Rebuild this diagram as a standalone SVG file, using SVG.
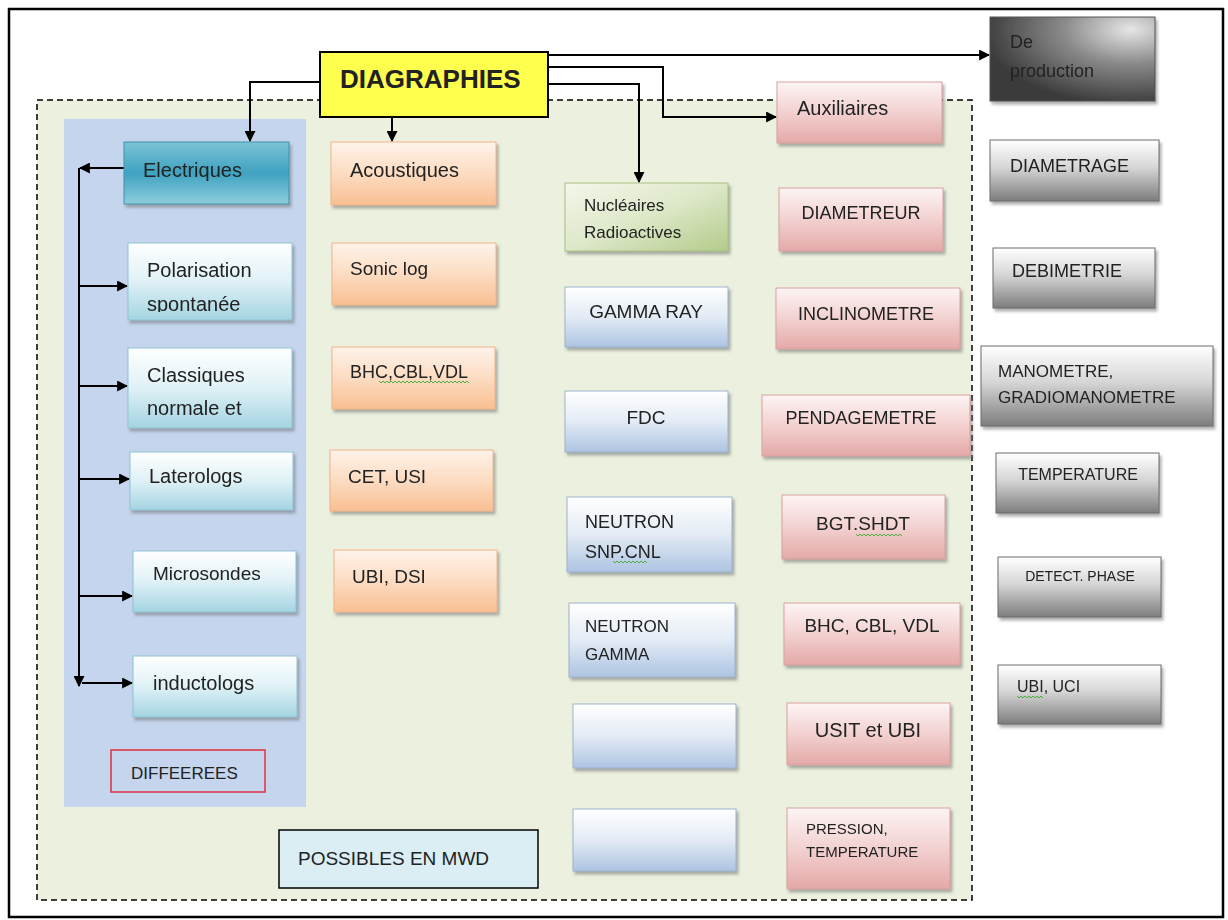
<svg xmlns="http://www.w3.org/2000/svg" width="1228" height="920" viewBox="0 0 1228 920">
<defs>
<style>
text{font-family:"Liberation Sans",Arial,sans-serif;fill:#222;}
.t20{font-size:20px}.t19{font-size:19px}.t18{font-size:18px}.t17{font-size:17px}.t16{font-size:16px}.t15{font-size:15px}.t14{font-size:14px}.t13{font-size:13px}
.c{text-anchor:middle}
.box{stroke-width:1}
.cy{fill:url(#gCyan);stroke:#8fc3d3}
.el{fill:url(#gTeal);stroke:#3c93ab}
.or{fill:url(#gOrange);stroke:#f2b48a}
.bl{fill:url(#gBlue);stroke:#9db3cf}
.gr{fill:url(#gGreen);stroke:#a9c281}
.pk{fill:url(#gPink);stroke:#d9a1a0}
.gy{fill:url(#gGrey);stroke:#6d6d6d}
.conn{fill:none;stroke:#000;stroke-width:2}
.wavy{fill:none;stroke:#4caf3c;stroke-width:1}
</style>
<linearGradient id="gCyan" x1="0" y1="0" x2="0" y2="1"><stop offset="0" stop-color="#ffffff"/><stop offset="0.5" stop-color="#dff1f6"/><stop offset="1" stop-color="#a3d4e2"/></linearGradient>
<linearGradient id="gTeal" x1="0" y1="0" x2="0" y2="1"><stop offset="0" stop-color="#7cc3d7"/><stop offset="0.5" stop-color="#3fa2c0"/><stop offset="1" stop-color="#8dcddd"/></linearGradient>
<linearGradient id="gOrange" x1="0" y1="0" x2="0" y2="1"><stop offset="0" stop-color="#fff3ea"/><stop offset="0.5" stop-color="#fcdcc2"/><stop offset="1" stop-color="#f9bf92"/></linearGradient>
<linearGradient id="gBlue" x1="0" y1="0" x2="0" y2="1"><stop offset="0" stop-color="#ffffff"/><stop offset="0.5" stop-color="#e3ebf5"/><stop offset="1" stop-color="#adc4e2"/></linearGradient>
<linearGradient id="gGreen" x1="0" y1="0" x2="1" y2="1"><stop offset="0" stop-color="#f4f7ec"/><stop offset="0.5" stop-color="#dde8c8"/><stop offset="1" stop-color="#b3cb8a"/></linearGradient>
<linearGradient id="gPink" x1="0" y1="0" x2="0" y2="1"><stop offset="0" stop-color="#fdf4f4"/><stop offset="0.5" stop-color="#f2d1d0"/><stop offset="1" stop-color="#e4a9a8"/></linearGradient>
<linearGradient id="gGrey" x1="0" y1="0" x2="0" y2="1"><stop offset="0" stop-color="#ffffff"/><stop offset="0.45" stop-color="#d6d6d6"/><stop offset="1" stop-color="#7d7d7d"/></linearGradient>
<radialGradient id="gDark" cx="0.85" cy="0.15" r="0.9"><stop offset="0" stop-color="#e6e6e6"/><stop offset="0.45" stop-color="#8a8a8a"/><stop offset="1" stop-color="#3a3a3a"/></radialGradient>
<filter id="sh" x="-10%" y="-10%" width="125%" height="130%"><feDropShadow dx="2" dy="3" stdDeviation="1.5" flood-color="#7a7a7a" flood-opacity="0.6"/></filter>
<marker id="arr" viewBox="0 0 10 10" refX="9" refY="5" markerWidth="11" markerHeight="11" markerUnits="userSpaceOnUse" orient="auto"><path d="M0,0 L10,5 L0,10 z" fill="#000"/></marker>
<clipPath id="clipPol"><rect x="128" y="243" width="164" height="69"/></clipPath>
</defs>

<rect x="9" y="9" width="1214" height="908" fill="#fff" stroke="#000" stroke-width="2.5"/>
<g id="zone-possibles">
<rect x="37" y="100" width="935" height="800" fill="#ebf1de" stroke="#000" stroke-width="1.5" stroke-dasharray="6,4"/>
</g>
<g id="panel-differees">
<rect x="64" y="119" width="242" height="688" fill="#c5d5ee"/>
</g>

<g id="connectors">
<path class="conn" d="M320,82 H250 V141" marker-end="url(#arr)"/>
<path class="conn" d="M392,117 V141" marker-end="url(#arr)"/>
<path class="conn" d="M548,55 H989" marker-end="url(#arr)"/>
<path class="conn" d="M548,67 H663 V117 H776" marker-end="url(#arr)"/>
<path class="conn" d="M548,84 H639 V182" marker-end="url(#arr)"/>
<path class="conn" d="M124,168 H80" marker-end="url(#arr)"/>
<path class="conn" d="M79,168 V686" marker-end="url(#arr)"/>
<path class="conn" d="M79,286 H127" marker-end="url(#arr)"/>
<path class="conn" d="M79,386 H127" marker-end="url(#arr)"/>
<path class="conn" d="M79,479 H129" marker-end="url(#arr)"/>
<path class="conn" d="M79,596 H132" marker-end="url(#arr)"/>
<path class="conn" d="M82,683 H132" marker-end="url(#arr)"/>
</g>

<g id="diagraphies"><rect x="320" y="52" width="228" height="65" fill="#ffff4d" stroke="#000" stroke-width="2"/><text x="340" y="88" style="font-size:26px;font-weight:bold">DIAGRAPHIES</text></g>

<g id="electriques" filter="url(#sh)"><rect class="box el" x="124" y="142" width="165" height="62"/><text class="t20" x="143" y="177">Electriques</text></g>
<g id="polarisation" filter="url(#sh)"><rect class="box cy" x="128" y="243" width="164" height="77"/><g clip-path="url(#clipPol)"><text class="t20" x="147" y="277">Polarisation</text><text class="t20" x="147" y="311">spontanée</text></g></g>
<g id="classiques" filter="url(#sh)"><rect class="box cy" x="128" y="348" width="164" height="80"/><text class="t20" x="147" y="382">Classiques</text><text class="t20" x="147" y="415">normale et</text></g>
<g id="laterologs" filter="url(#sh)"><rect class="box cy" x="130" y="452" width="163" height="58"/><text class="t20" x="149" y="483">Laterologs</text></g>
<g id="microsondes" filter="url(#sh)"><rect class="box cy" x="133" y="551" width="163" height="61"/><text class="t19" x="153" y="580">Microsondes</text></g>
<g id="inductologs" filter="url(#sh)"><rect class="box cy" x="133" y="656" width="164" height="61"/><text class="t20" x="153" y="690">inductologs</text></g>
<g id="differees"><rect x="111" y="750" width="154" height="42" fill="#c5d5ee" stroke="#e0303c" stroke-width="1.5"/><text class="t17" x="131" y="779">DIFFEEREES</text></g>

<g id="acoustiques" filter="url(#sh)"><rect class="box or" x="331" y="142" width="165" height="63"/><text class="t20" x="350" y="177">Acoustiques</text></g>
<g id="sonic" filter="url(#sh)"><rect class="box or" x="332" y="243" width="164" height="62"/><text class="t19" x="350" y="275">Sonic log</text></g>
<g id="bhc-a" filter="url(#sh)"><rect class="box or" x="332" y="347" width="163" height="62"/><text class="t18" x="350" y="378">BHC,CBL,VDL</text><path class="wavy" d="M379,381 l2,2 2,-2 2,2 2,-2 2,2 2,-2 2,2 2,-2 2,2 2,-2 2,2 2,-2 2,2 2,-2 2,2 2,-2 2,2 2,-2 2,2 2,-2 2,2 2,-2 2,2 2,-2 2,2 2,-2 2,2 2,-2 2,2 2,-2 2,2 2,-2 2,2 2,-2 2,2 2,-2 2,2 2,-2 2,2 2,-2 2,2 2,-2 2,2 2,-2 2,2"/></g>
<g id="cet" filter="url(#sh)"><rect class="box or" x="330" y="450" width="163" height="61"/><text class="t19" x="348" y="483">CET, USI</text></g>
<g id="ubi-dsi" filter="url(#sh)"><rect class="box or" x="334" y="550" width="163" height="62"/><text class="t19" x="352" y="583">UBI, DSI</text></g>

<g id="nucleaires" filter="url(#sh)"><rect class="box gr" x="565" y="183" width="163" height="68"/><text class="t17" x="584" y="211">Nucléaires</text><text class="t17" x="584" y="238">Radioactives</text></g>
<g id="gammaray" filter="url(#sh)"><rect class="box bl" x="565" y="287" width="163" height="60"/><text class="t19 c" x="646" y="318">GAMMA RAY</text></g>
<g id="fdc" filter="url(#sh)"><rect class="box bl" x="565" y="391" width="163" height="61"/><text class="t19 c" x="646" y="424">FDC</text></g>
<g id="neutron-snp" filter="url(#sh)"><rect class="box bl" x="567" y="497" width="165" height="75"/><text class="t18" x="585" y="528">NEUTRON</text><text class="t18" x="585" y="558">SNP.CNL</text><path class="wavy" d="M613,561 l2,2 2,-2 2,2 2,-2 2,2 2,-2 2,2 2,-2 2,2 2,-2 2,2 2,-2 2,2 2,-2 2,2 2,-2 2,2"/></g>
<g id="neutron-gamma" filter="url(#sh)"><rect class="box bl" x="569" y="603" width="166" height="74"/><text class="t17" x="585" y="632">NEUTRON</text><text class="t17" x="585" y="660">GAMMA</text></g>
<g id="nuc-empty-1" filter="url(#sh)"><rect class="box bl" x="573" y="704" width="163" height="64"/></g>
<g id="nuc-empty-2" filter="url(#sh)"><rect class="box bl" x="573" y="809" width="163" height="62"/></g>

<g id="auxiliaires" filter="url(#sh)"><rect class="box pk" x="777" y="82" width="165" height="61"/><text class="t20" x="797" y="115">Auxiliaires</text></g>
<g id="diametreur" filter="url(#sh)"><rect class="box pk" x="779" y="188" width="164" height="63"/><text class="t18 c" x="861" y="219">DIAMETREUR</text></g>
<g id="inclinometre" filter="url(#sh)"><rect class="box pk" x="776" y="288" width="184" height="61"/><text class="t18 c" x="866" y="320">INCLINOMETRE</text></g>
<g id="pendagemetre" filter="url(#sh)"><rect class="box pk" x="762" y="395" width="208" height="61"/><text class="t18 c" x="861" y="424">PENDAGEMETRE</text></g>
<g id="bgt" filter="url(#sh)"><rect class="box pk" x="782" y="495" width="163" height="64"/><text class="t19 c" x="863" y="530">BGT.SHDT</text><path class="wavy" d="M856,534 l2,2 2,-2 2,2 2,-2 2,2 2,-2 2,2 2,-2 2,2 2,-2 2,2 2,-2 2,2 2,-2 2,2 2,-2 2,2 2,-2 2,2 2,-2 2,2 2,-2 2,2"/></g>
<g id="bhc-b" filter="url(#sh)"><rect class="box pk" x="784" y="603" width="176" height="62"/><text class="t19 c" x="872" y="632">BHC, CBL, VDL</text></g>
<g id="usit" filter="url(#sh)"><rect class="box pk" x="787" y="703" width="163" height="62"/><text class="t20 c" x="868" y="737">USIT et UBI</text></g>
<g id="pression" filter="url(#sh)"><rect class="box pk" x="787" y="808" width="163" height="81"/><text class="t15" x="806" y="834">PRESSION,</text><text class="t15" x="806" y="857">TEMPERATURE</text></g>

<g id="de-production" filter="url(#sh)"><rect x="990" y="17" width="165" height="84" fill="url(#gDark)" stroke="#555" stroke-width="1"/><text class="t18" x="1010" y="48">De</text><text class="t18" x="1010" y="77">production</text></g>
<g id="diametrage" filter="url(#sh)"><rect class="box gy" x="990" y="140" width="169" height="61"/><text class="t18" x="1010" y="172">DIAMETRAGE</text></g>
<g id="debimetrie" filter="url(#sh)"><rect class="box gy" x="993" y="248" width="162" height="60"/><text class="t18" x="1012" y="277">DEBIMETRIE</text></g>
<g id="manometre" filter="url(#sh)"><rect class="box gy" x="981" y="346" width="232" height="80"/><text class="t17" x="998" y="377">MANOMETRE,</text><text class="t17" x="998" y="403">GRADIOMANOMETRE</text></g>
<g id="temperature" filter="url(#sh)"><rect class="box gy" x="996" y="453" width="163" height="60"/><text class="t16 c" x="1078" y="480">TEMPERATURE</text></g>
<g id="detect-phase" filter="url(#sh)"><rect class="box gy" x="998" y="557" width="163" height="60"/><text class="t14 c" x="1080" y="581">DETECT. PHASE</text></g>
<g id="ubi-uci" filter="url(#sh)"><rect class="box gy" x="998" y="665" width="163" height="59"/><text class="t16" x="1017" y="692">UBI, UCI</text><path class="wavy" d="M1017,696 l2,2 2,-2 2,2 2,-2 2,2 2,-2 2,2 2,-2 2,2 2,-2 2,2 2,-2 2,2"/></g>

<g id="possibles-mwd"><rect x="279" y="830" width="259" height="58" fill="#dbeef4" stroke="#000" stroke-width="1.5"/><text class="t19" x="298" y="865">POSSIBLES EN MWD</text></g>
</svg>
